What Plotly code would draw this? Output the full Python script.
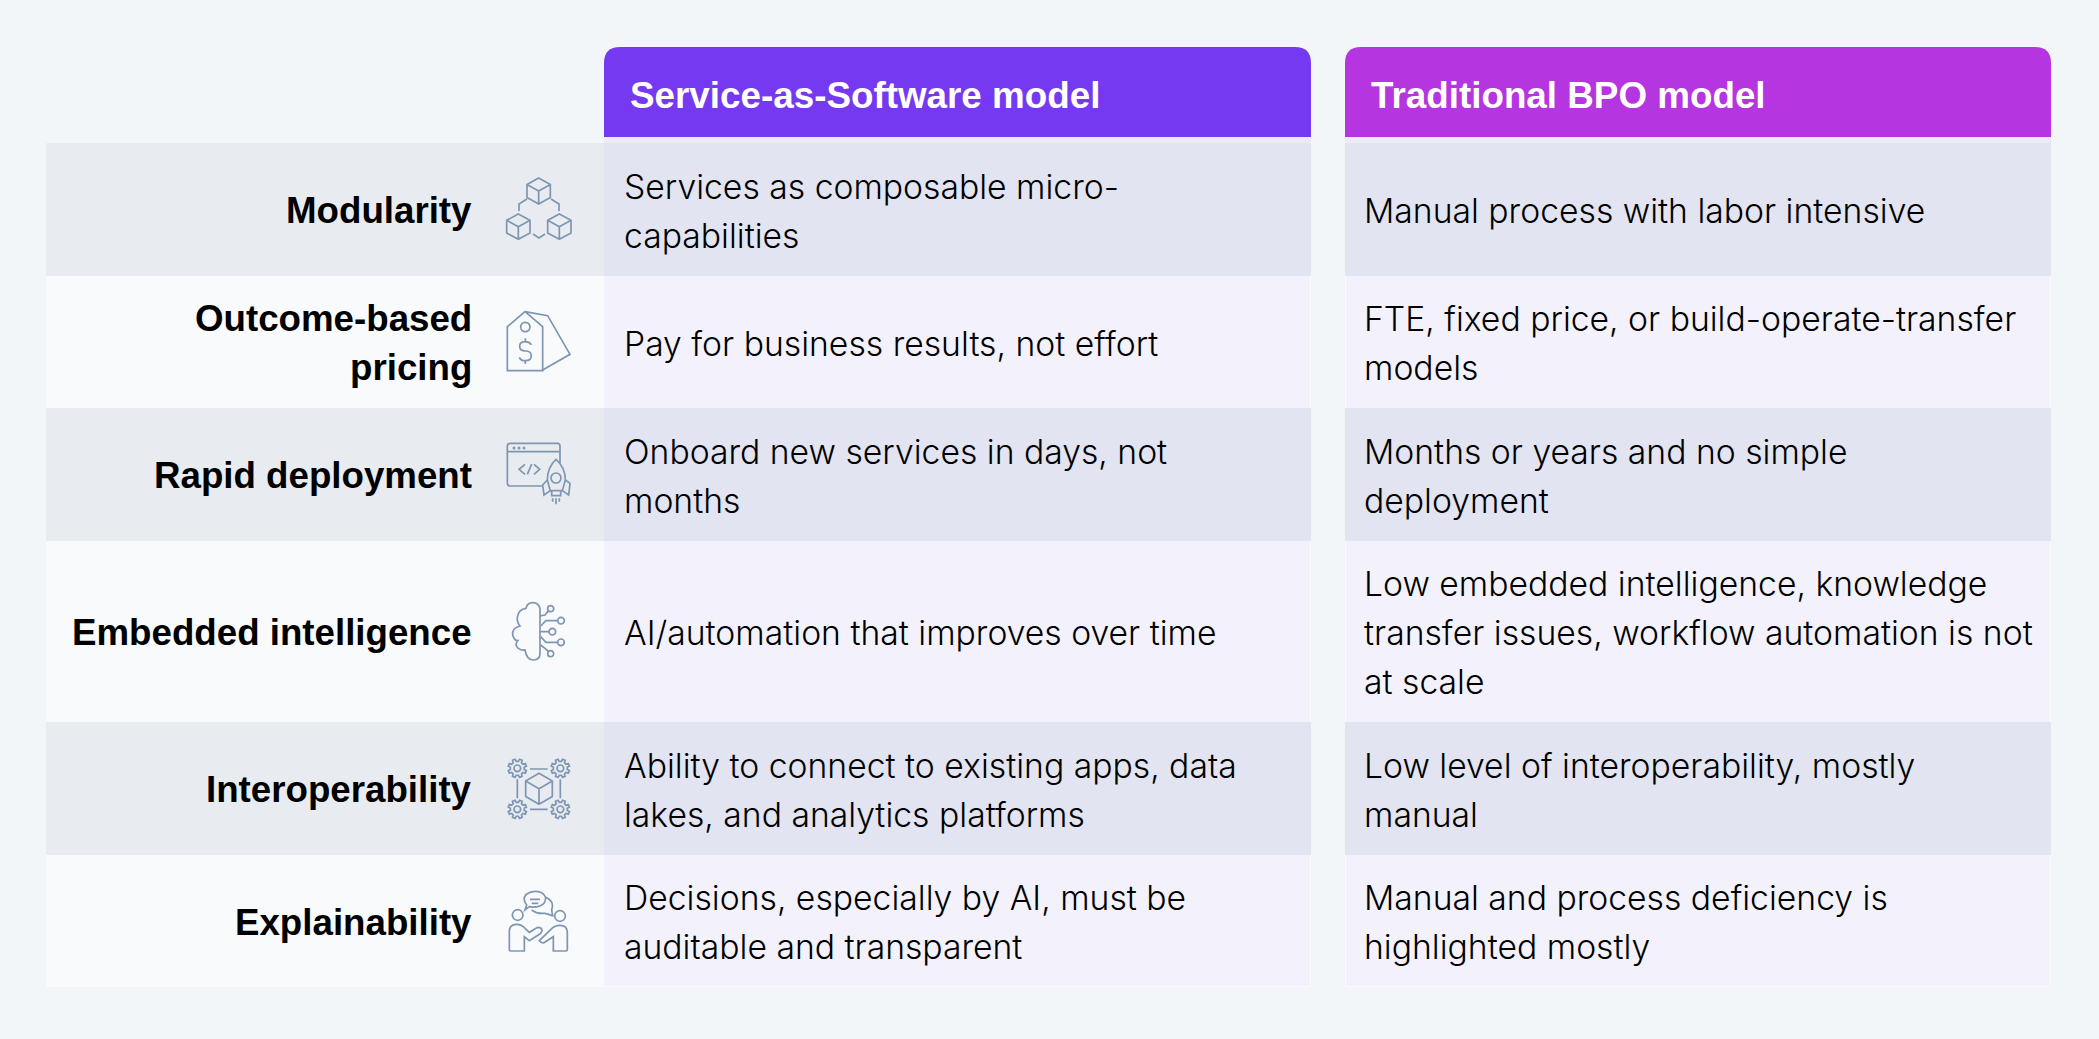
import math
import re
import plotly.graph_objects as go

W, H = 2099, 1039

headers = ["Service-as-Software model", "Traditional BPO model"]
features = [
    "Modularity",
    "Outcome-based\npricing",
    "Rapid deployment",
    "Embedded intelligence",
    "Interoperability",
    "Explainability",
]
saas_text = [
    "Services as composable micro-\ncapabilities",
    "Pay for business results, not effort",
    "Onboard new services in days, not\nmonths",
    "AI/automation that improves over time",
    "Ability to connect to existing apps, data\nlakes, and analytics platforms",
    "Decisions, especially by AI, must be\nauditable and transparent",
]
bpo_text = [
    "Manual process with labor intensive",
    "FTE, fixed price, or build-operate-transfer\nmodels",
    "Months or years and no simple\ndeployment",
    "Low embedded intelligence, knowledge\ntransfer issues, workflow automation is not\nat scale",
    "Low level of interoperability, mostly\nmanual",
    "Manual and process deficiency is\nhighlighted mostly",
]

# layout, in page pixels
row_edges = [143, 276, 408, 541, 722, 855, 987]
label_x = (46, 604)
columns = [(604, 1311), (1345, 2051)]
header_top, header_bottom = 47, 137
line_pitch = 49

BG = "#f2f6f9"
ICON = "#7f96b2"
header_colors = ["#7539f2", "#b535e0"]
FONT_BOLD = "Liberation Sans"
FONT_BODY = "Inter"

fig = go.Figure()


def rect(x0, x1, y0, y1, color):
    fig.add_shape(type="rect", x0=x0, x1=x1, y0=y0, y1=y1,
                  fillcolor=color, line_width=0, layer="below")


def write(text, x, y, anchor, size, color="#000000", bold=False):
    lines = text.split("\n")
    top = y - line_pitch * (len(lines) - 1) / 2
    for i, line in enumerate(lines):
        fig.add_annotation(
            x=x, y=top + i * line_pitch, text=line, showarrow=False,
            xanchor=anchor, yanchor="middle", borderpad=0,
            font=dict(
                family=FONT_BOLD if bold else FONT_BODY,
                size=size, color=color, weight=700 if bold else 300,
            ),
        )


# icon paths are written in 3x zoom units, relative to an origin on the page
def stroke(d, ox, oy):
    d = re.sub(
        r"(-?[\d.]+)[ ,]+(-?[\d.]+)",
        lambda m: f"{ox + float(m[1]) / 3:.2f},{oy + float(m[2]) / 3:.2f}",
        d,
    )
    fig.add_shape(type="path", path=d, line=dict(color=ICON, width=1.7))


def circle(cx, cy, r, ox, oy):
    fig.add_shape(
        type="circle",
        x0=ox + (cx - r) / 3, x1=ox + (cx + r) / 3,
        y0=oy + (cy - r) / 3, y1=oy + (cy + r) / 3,
        line=dict(color=ICON, width=1.7),
    )


def cube(cx, top, w, h, ox, oy):
    q = h / 4
    stroke(
        f"M {cx} {top} L {cx + w} {top + q} L {cx + w} {top + 3 * q} L {cx} {top + h} "
        f"L {cx - w} {top + 3 * q} L {cx - w} {top + q} Z "
        f"M {cx - w} {top + q} L {cx} {top + 2 * q} L {cx + w} {top + q} "
        f"M {cx} {top + 2 * q} L {cx} {top + h}",
        ox, oy,
    )


def gear(cx, cy, ox, oy):
    pts = []
    for k in range(8):
        a = k * math.pi / 4 + math.pi / 8
        for da, r in ((-0.24, 21), (-0.15, 28), (0.15, 28), (0.24, 21)):
            pts.append((cx + r * math.cos(a + da), cy + r * math.sin(a + da)))
    d = "M " + " L ".join(f"{x:.1f} {y:.1f}" for x, y in pts) + " Z"
    stroke(d, ox, oy)
    circle(cx, cy, 10, ox, oy)


def icon_modularity():
    ox, oy = 470, 130
    cube(206, 144, 35, 78, ox, oy)
    cube(145, 252, 35, 76, ox, oy)
    cube(268, 252, 35, 76, ox, oy)
    stroke("M 171 207 L 147 222 L 147 243", ox, oy)
    stroke("M 243 207 L 267 222 L 267 243", ox, oy)
    stroke("M 189 312 L 207 324 L 225 312", ox, oy)


def icon_pricing():
    ox, oy = 470, 270
    stroke("M 112 170 L 165 125 L 218 170 L 218 302 L 112 302 Z", ox, oy)
    stroke("M 165 125 L 233 137 L 300 253 L 218 300", ox, oy)
    circle(166, 171, 14, ox, oy)
    stroke("M 184 224 Q 178 215 165 215 Q 149 215 149 229 Q 149 243 166 243 "
           "Q 184 243 184 258 Q 184 272 166 272 Q 152 272 148 262 "
           "M 166 205 L 166 215 M 166 272 L 166 282", ox, oy)


def icon_deployment():
    ox, oy = 470, 270
    stroke("M 218 648 L 120 648 Q 112 648 112 640 L 112 528 Q 112 520 120 520 "
           "L 262 520 Q 270 520 270 528 L 270 578 M 112 545 L 270 545", ox, oy)
    for x in (132, 147, 162):
        circle(x, 534, 2, ox, oy)
    stroke("M 165 583 L 147 598 L 165 613 M 185 582 L 172 613 "
           "M 192 583 L 209 598 L 192 613", ox, oy)
    stroke("M 258 568 Q 232 592 232 630 L 241 662 L 277 662 L 286 630 "
           "Q 286 592 258 568 Z", ox, oy)
    circle(258, 624, 15, ox, oy)
    stroke("M 232 630 L 218 645 L 222 675 L 241 662 "
           "M 286 630 L 300 640 L 296 675 L 277 662 "
           "M 245 662 L 245 677 L 272 677 L 272 662 "
           "M 248 685 L 248 695 M 258 685 L 258 703 M 268 685 L 268 695", ox, oy)


def icon_intelligence():
    ox, oy = 470, 520
    stroke("M 210 400 L 210 265 Q 205 248 188 248 Q 172 248 168 265 "
           "Q 145 268 142 292 Q 140 305 150 318 Q 125 325 128 345 "
           "Q 133 362 143 362 Q 132 375 145 385 Q 155 392 165 390 "
           "Q 170 420 190 420 Q 210 420 210 400", ox, oy)
    stroke("M 210 288 L 225 285 L 236 272", ox, oy)
    stroke("M 212 318 L 228 302 L 263 302", ox, oy)
    stroke("M 210 335 L 237 335", ox, oy)
    stroke("M 212 350 L 228 367 L 263 367", ox, oy)
    stroke("M 212 375 L 225 385 L 236 395", ox, oy)
    circle(242, 266, 9, ox, oy)
    circle(273, 302, 10, ox, oy)
    circle(247, 335, 10, ox, oy)
    circle(273, 367, 10, ox, oy)
    circle(242, 401, 9, ox, oy)


def icon_interop():
    ox, oy = 470, 520
    for cx, cy in ((142, 745), (271, 745), (142, 868), (271, 868)):
        gear(cx, cy, ox, oy)
    stroke("M 180 747 L 233 747 M 180 868 L 233 868 "
           "M 142 778 L 142 835 M 271 778 L 271 835", ox, oy)
    cube(207, 760, 40, 93, ox, oy)


def icon_explain():
    ox, oy = 470, 520
    circle(143, 1185, 16, ox, oy)
    circle(270, 1188, 16, ox, oy)
    stroke("M 165 1170 L 170 1155 Q 155 1135 170 1122 Q 190 1108 215 1118 "
           "Q 235 1130 222 1150 Q 205 1165 178 1160 Z", ox, oy)
    stroke("M 180 1138 L 210 1138 M 185 1150 L 205 1150", ox, oy)
    stroke("M 228 1132 Q 255 1145 245 1170 L 248 1187 L 225 1180 Q 200 1182 185 1170", ox, oy)
    stroke("M 163 1293 L 122 1293 Q 118 1293 118 1288 L 118 1235 Q 118 1213 140 1213 "
           "Q 155 1213 165 1225 L 178 1237 L 203 1222 Q 216 1222 216 1232 "
           "Q 214 1240 205 1245 L 178 1262 L 163 1250 Z", ox, oy)
    stroke("M 250 1293 L 288 1293 Q 292 1293 292 1288 L 292 1238 Q 292 1216 270 1216 "
           "Q 255 1216 245 1226 L 208 1262 Q 214 1270 222 1268 L 250 1250 Z", ox, oy)


fig.add_trace(go.Scatter(x=[], y=[], hoverinfo="skip", showlegend=False))

# rows and columns
for i in range(len(features)):
    y0, y1 = row_edges[i], row_edges[i + 1]
    rect(label_x[0], label_x[1], y0, y1, "#e8ecf1" if i % 2 == 0 else "#f9fafc")
    for x0, x1 in columns:
        rect(x0, x1, y0, y1, "#e2e4f1" if i % 2 == 0 else "#f3f2fc")
        # thin pale edge between the two columns
        if i % 2 == 1:
            rect(x1 - 1, x1, y0, y1, "#fbfbfe")
            rect(x0, x0 + 1, y0, y1, "#fbfbfe") if x0 != 604 else None
    yc = (y0 + y1) / 2 + 1
    write(features[i], 472.5, yc, "right", 36.7, bold=True)
    write(saas_text[i], 623, yc, "left", 33.7)
    write(bpo_text[i], 1363, yc, "left", 33.7)

for x0, x1 in columns:
    rect(x0, x1, header_bottom, row_edges[0], "#eee9fa")
    rect(x0, x1, row_edges[-1] - 1, row_edges[-1], "#fbfbfe")

# headers with rounded top corners
for j, (x0, x1) in enumerate(columns):
    r = 16
    fig.add_shape(
        type="path",
        path=f"M {x0},{header_bottom} L {x0},{header_top + r} Q {x0},{header_top} {x0 + r},{header_top} "
             f"L {x1 - r},{header_top} Q {x1},{header_top} {x1},{header_top + r} L {x1},{header_bottom} Z",
        fillcolor=header_colors[j], line_width=0, layer="below",
    )
    write(headers[j], x0 + 24.5, 95, "left", 36.8, color="#ffffff", bold=True)

icon_modularity()
icon_pricing()
icon_deployment()
icon_intelligence()
icon_interop()
icon_explain()

fig.update_layout(
    width=W, height=H, margin=dict(l=0, r=0, t=0, b=0),
    paper_bgcolor=BG, plot_bgcolor=BG, showlegend=False,
    xaxis=dict(range=[0, W], visible=False, fixedrange=True),
    yaxis=dict(range=[H, 0], visible=False, fixedrange=True),
)

fig.write_html(
    "out.html",
    config={"displayModeBar": False},
    post_script="document.body.style.margin='0';document.body.style.overflow='hidden';",
)
